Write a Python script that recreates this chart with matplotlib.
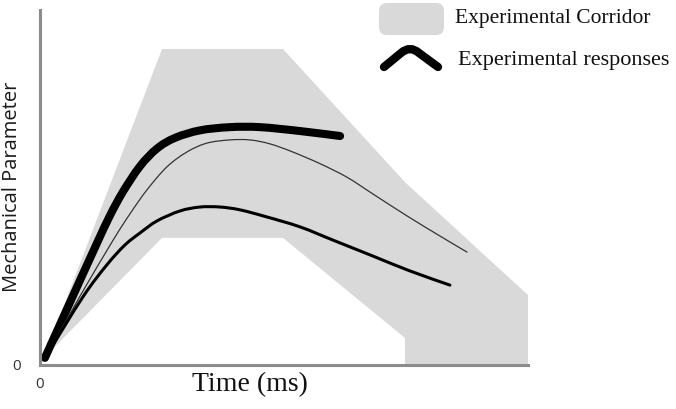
import numpy as np
import matplotlib
matplotlib.use("Agg")
import matplotlib.pyplot as plt
from matplotlib.patches import Polygon, FancyBboxPatch, PathPatch
from matplotlib.path import Path
from matplotlib.transforms import IdentityTransform

W, H = 676, 409

# corridor outline (time %, parameter %)
corr_x = [0.8, 25.0, 49.8, 74.8, 100.0, 100.0, 74.8, 74.8, 49.8, 25.0, 0.8]
corr_y = [2.0, 89.0, 89.0, 51.5, 19.7, 0.0, 0.0, 7.6, 35.8, 35.8, 2.0]

# thick response
thick_x = [1.0, 6.1, 11.3, 14.3, 17.0, 20.5, 24.0, 27.7, 32.8, 38.9, 45.1, 53.3, 61.5]
thick_y = [2.0, 17.5, 33.2, 42.0, 48.8, 56.0, 61.0, 64.0, 66.1, 67.0, 67.0, 65.9, 64.5]

# thin response
thin_x = [1.4, 8.2, 15.0, 18.4, 21.9, 26.0, 30.1, 34.2, 38.9, 43.0, 47.1, 51.8, 57.4, 62.9, 68.2, 75.2, 82.0, 87.5]
thin_y = [2.8, 19.4, 35.2, 42.5, 49.3, 55.8, 60.0, 62.5, 63.4, 63.4, 62.3, 60.0, 56.7, 52.9, 48.2, 42.0, 36.3, 31.8]

# lower response
low_x = [1.4, 8.8, 13.7, 17.4, 20.5, 24.0, 28.7, 32.8, 36.9, 41.0, 46.5, 53.3, 60.0, 68.2, 75.8, 84.0]
low_y = [2.8, 19.2, 28.2, 33.8, 37.2, 40.6, 43.4, 44.5, 44.5, 43.7, 41.7, 38.9, 35.2, 30.7, 26.5, 22.5]

corr_col = "#d9d9d9"
spine_col = "#8c8c8c"


def smooth_path(xs, ys):
    # cubic bezier through the points (catmull-rom tangents)
    p = np.column_stack([xs, ys]).astype(float)
    verts = [p[0]]
    codes = [Path.MOVETO]
    n = len(p)
    for i in range(n - 1):
        p0 = p[max(i - 1, 0)]
        p1 = p[i]
        p2 = p[i + 1]
        p3 = p[min(i + 2, n - 1)]
        c1 = p1 + (p2 - p0) / 6.0
        c2 = p2 - (p3 - p1) / 6.0
        verts += [c1, c2, p2]
        codes += [Path.CURVE4] * 3
    return Path(verts, codes)


def draw_curve(ax, xs, ys, **kw):
    ax.add_patch(PathPatch(smooth_path(xs, ys), facecolor="none", capstyle="round",
                           joinstyle="round", zorder=3, **kw))


fig = plt.figure(figsize=(W / 100, H / 100), dpi=100)
ax = fig.add_axes([40 / W, 1 - 365 / H, 488 / W, 355 / H])
ax.set_xlim(0, 100)
ax.set_ylim(0, 100)

ax.add_patch(Polygon(np.column_stack([corr_x, corr_y]), closed=True,
                     facecolor=corr_col, edgecolor="none", zorder=1))
draw_curve(ax, thick_x, thick_y, edgecolor="black", lw=5.8)
draw_curve(ax, thin_x, thin_y, edgecolor="#333333", lw=0.9)
draw_curve(ax, low_x, low_y, edgecolor="black", lw=2.2)

for s in ["top", "right"]:
    ax.spines[s].set_visible(False)
for s in ["left", "bottom"]:
    ax.spines[s].set_color(spine_col)
    ax.spines[s].set_linewidth(2.2)
    ax.spines[s].set_zorder(4)
ax.set_xticks([])
ax.set_yticks([])


def fx(x):
    return x / W


def fy(y):
    return 1 - y / H


sans = ["Open Sans", "DejaVu Sans"]
serif = ["Liberation Serif", "DejaVu Serif"]

fig.text(fx(12), fy(187), "Mechanical Parameter", rotation=90, ha="center", va="center",
         fontsize=14.5, family=sans, color="#1a1a1a")
fig.text(fx(17), fy(367), "0", ha="center", va="center", fontsize=11, family=sans, color="#333333")
fig.text(fx(40), fy(384), "0", ha="center", va="center", fontsize=11, family=sans, color="#333333")
fig.text(fx(250), fy(385), "Time (ms)", ha="center", va="center", fontsize=20, family=serif, color="#111111")

# legend
ident = IdentityTransform()
fig.patches.append(FancyBboxPatch((379, H - 35), 65, 32,
                                  boxstyle="round,pad=0,rounding_size=8",
                                  facecolor=corr_col, edgecolor="none", transform=ident))
chev = Path([(384, H - 67), (401, H - 53), (410, H - 45), (419, H - 53), (438, H - 67)],
            [Path.MOVETO, Path.LINETO, Path.CURVE3, Path.CURVE3, Path.LINETO])
fig.patches.append(PathPatch(chev, facecolor="none", edgecolor="black", lw=6,
                             capstyle="round", joinstyle="round", transform=ident))
fig.text(fx(455), fy(18), "Experimental Corridor", ha="left", va="center",
         fontsize=15.5, family=serif, color="#111111")
fig.text(fx(458), fy(60), "Experimental responses", ha="left", va="center",
         fontsize=16, family=serif, color="#111111")

fig.savefig("out.png", dpi=100)
